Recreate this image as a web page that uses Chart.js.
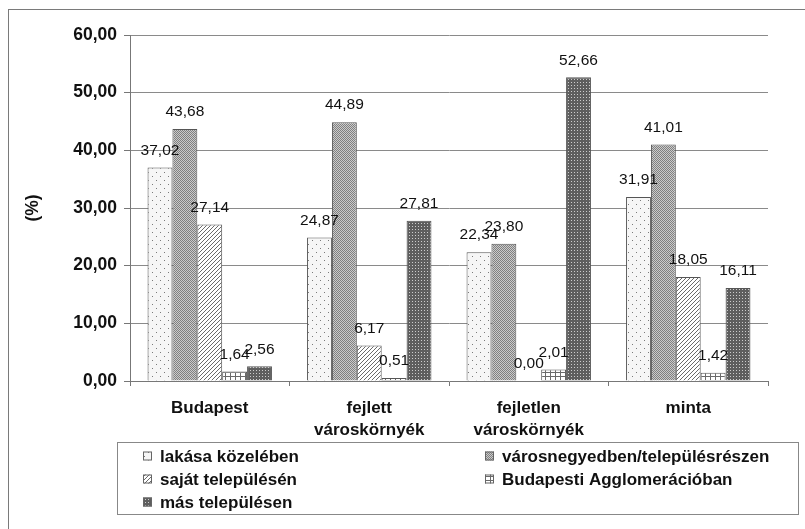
<!DOCTYPE html>
<html>
<head>
<meta charset="utf-8">
<script src="https://cdn.jsdelivr.net/npm/chart.js@4"></script>
<style>
  html, body { margin: 0; padding: 0; background: #fff; }
  canvas { display: block; }
</style>
</head>
<body>
<canvas id="chart" width="805" height="529"></canvas>
<script>
const categories = ["Budapest", ["fejlett", "városkörnyék"], ["fejletlen", "városkörnyék"], "minta"];
const seriesNames = [
    "lakása közelében",
    "városnegyedben/településrészen",
    "saját településén",
    "Budapesti Agglomerációban",
    "más településen",
];
const lakasaKozeleben = [37.02, 24.87, 22.34, 31.91];
const varosnegyedben = [43.68, 44.89, 23.80, 41.01];
const sajatTelepulesen = [27.14, 6.17, 0.00, 18.05];
const budapestiAgglo = [1.64, 0.51, 2.01, 1.42];
const masTelepulesen = [2.56, 27.81, 52.66, 16.11];
const yTicks = [0, 10, 20, 30, 40, 50, 60];

const FONT = "'Liberation Sans', Arial, sans-serif";
const fmt = (v) => v.toFixed(2).replace(".", ",");

// small tile patterns, like the old excel fills
function makePattern(w, h, bg, fg, pixels) {
    const c = document.createElement("canvas");
    c.width = w;
    c.height = h;
    const g = c.getContext("2d");
    g.fillStyle = bg;
    g.fillRect(0, 0, w, h);
    g.fillStyle = fg;
    pixels.forEach(([x, y]) => g.fillRect(x, y, 1, 1));
    return g.createPattern(c, "repeat");
}

const ctx = document.getElementById("chart").getContext("2d");

const dots = makePattern(8, 8, "#f6f6f6", "#7a7a7a", [[0, 0], [4, 4]]);
const dense = makePattern(2, 2, "#cbcbcb", "#808080", [[0, 0], [1, 1]]);
const hatch = makePattern(4, 4, "#ffffff", "#6a6a6a", [[3, 0], [2, 1], [1, 2], [0, 3]]);
const grid = makePattern(5, 4, "#ffffff", "#6a6a6a", [[0, 0], [1, 0], [2, 0], [3, 0], [4, 0], [0, 1], [0, 2], [0, 3]]);
const dark = makePattern(3, 3, "#5e5e5e", "#cccccc", [[1, 1]]);

const fills = [dots, dense, hatch, grid, dark];
const values = [lakasaKozeleben, varosnegyedben, sajatTelepulesen, budapestiAgglo, masTelepulesen];

const valueLabels = {
    id: "valueLabels",
    afterDatasetsDraw(chart) {
        const c = chart.ctx;
        c.save();
        c.font = "15.5px " + FONT;
        c.fillStyle = "#111";
        c.textAlign = "center";
        c.textBaseline = "middle";
        chart.data.datasets.forEach((ds, i) => {
            chart.getDatasetMeta(i).data.forEach((bar, j) => {
                c.fillText(fmt(ds.data[j]), bar.x, bar.y - 17);
            });
        });
        c.restore();
    },
};

const boxLegend = {
    id: "boxLegend",
    afterDraw(chart) {
        const c = chart.ctx;
        c.save();
        // outer frame (only top and left show)
        c.strokeStyle = "#7a7a7a";
        c.lineWidth = 1;
        c.strokeRect(8.5, 9.5, 820, 540);
        // legend box
        c.strokeStyle = "#888";
        c.strokeRect(117.5, 442.5, 681, 72);
        c.font = "bold 17px " + FONT;
        c.textBaseline = "middle";
        const cols = [143, 485];
        const rows = [456, 479, 502];
        chart.data.datasets.forEach((ds, i) => {
            const x = cols[i % 2];
            const y = rows[Math.floor(i / 2)];
            c.fillStyle = ds.backgroundColor;
            c.fillRect(x, y - 4.5, 9, 9);
            c.strokeStyle = "#666";
            c.strokeRect(x + 0.5, y - 4, 8, 8);
            c.fillStyle = "#111";
            c.fillText(ds.label, x + 17, y + 1);
        });
        c.restore();
    },
};

new Chart(ctx, {
    type: "bar",
    data: {
        labels: categories,
        datasets: seriesNames.map((name, i) => ({
            label: name,
            data: values[i],
            backgroundColor: fills[i],
            borderColor: "#555",
            borderWidth: 1,
            categoryPercentage: 0.78,
            barPercentage: 1.0,
        })),
    },
    options: {
        responsive: false,
        animation: false,
        layout: { padding: { left: 0, right: 37, top: 35, bottom: 88 } },
        plugins: {
            legend: { display: false },
            tooltip: { enabled: false },
        },
        scales: {
            x: {
                afterFit: (s) => { s.height = 60; },
                grid: {
                    drawOnChartArea: false,
                    drawTicks: true,
                    tickLength: 5,
                    tickColor: "#777",
                },
                border: { color: "#777" },
                ticks: {
                    color: "#111",
                    padding: 11,
                    font: { family: FONT, size: 17, weight: "bold", lineHeight: 1.3 },
                },
            },
            y: {
                min: 0,
                max: 60,
                afterFit: (s) => { s.width = 130; },
                afterBuildTicks: (s) => { s.ticks = yTicks.map((v) => ({ value: v })); },
                grid: {
                    color: (c) => (c.tick && c.tick.value === 0 ? "rgba(0,0,0,0)" : "#8a8a8a"),
                    borderDash: [5, 4],
                    tickLength: 6,
                    tickColor: "#777",
                    tickBorderDash: [],
                },
                border: { color: "#777" },
                ticks: {
                    color: "#111",
                    padding: 7,
                    font: { family: FONT, size: 17.5, weight: "bold" },
                    callback: (v) => fmt(v),
                },
                title: {
                    display: true,
                    text: "(%)",
                    color: "#111",
                    padding: { top: 23 },
                    font: { family: FONT, size: 17.5, weight: "bold" },
                },
            },
        },
    },
    plugins: [valueLabels, boxLegend],
});
</script>
</body>
</html>
